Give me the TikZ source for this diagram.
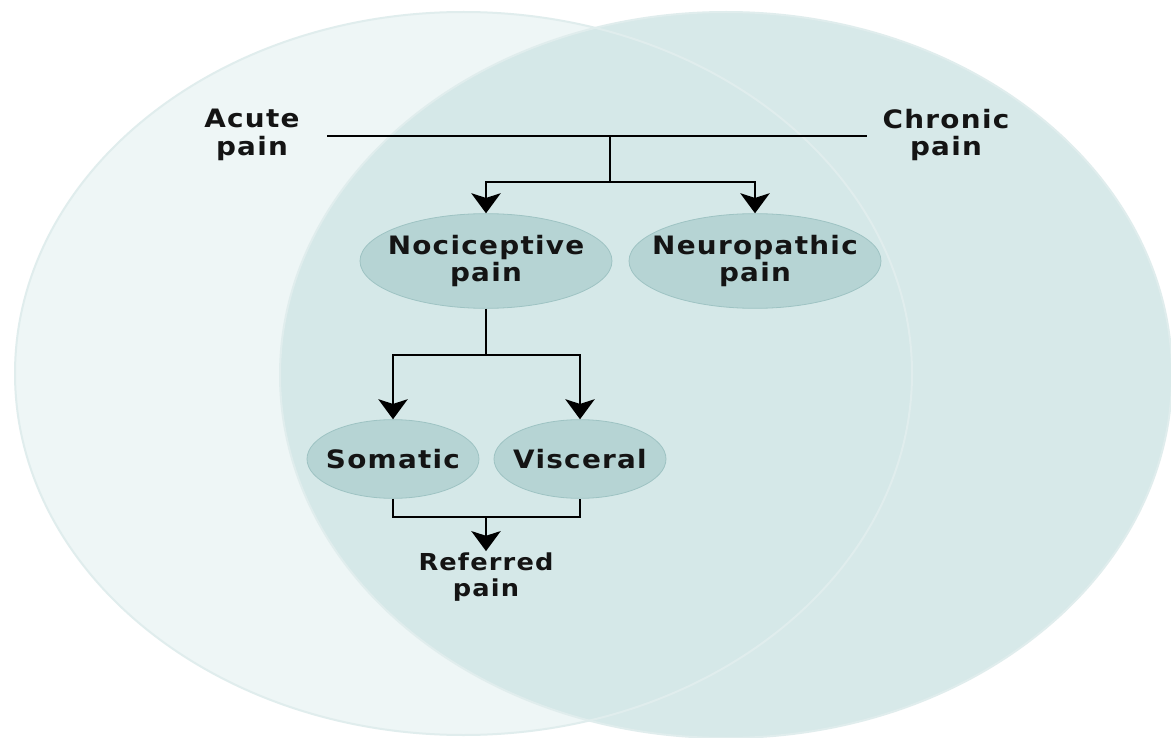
\documentclass[tikz,border=0pt]{standalone}
\usepackage{fontspec}
\usetikzlibrary{shapes.geometric,arrows.meta}

\newfontfamily\lblfont{DejaVu Sans}[FakeStretch=1.1,LetterSpace=5]

\definecolor{acutebg}{HTML}{EEF6F6}
\definecolor{chronicbg}{HTML}{D2E7E7}
\definecolor{rimcol}{HTML}{E0EDED}
\definecolor{bubblefill}{HTML}{B6D4D4}
\definecolor{bubbleedge}{HTML}{9EC3C3}

\begin{document}
\begin{tikzpicture}[x=0.75pt,y=-0.75pt,
    lbl/.style={font=\lblfont\bfseries\fontsize{19}{20.5}\selectfont, align=center, text=black!92, inner sep=1pt},
    smalllbl/.style={lbl, font=\lblfont\bfseries\fontsize{17.5}{19.5}\selectfont},
    bubble/.style={ellipse, fill=bubblefill, draw=bubbleedge, line width=0.6pt,
                   minimum width=189pt, minimum height=71pt, inner xsep=-16pt, inner ysep=0pt,
                   font=\lblfont\bfseries\fontsize{19}{20.5}\selectfont, align=center, text=black!92},
    smallbubble/.style={bubble, minimum width=129pt, minimum height=59pt},
    link/.style={line width=1.5pt, black},
    arr/.style={link, -{Stealth[width=22pt,length=15pt,inset=3.5pt]}}]

    \useasboundingbox (0,0) rectangle (1171,738);
    \fill[white] (0,0) rectangle (1171,738);

    % the two overlapping sets
    \fill[acutebg] (463.5,373.5) ellipse [x radius=448.5, y radius=361.5];
    \fill[chronicbg, fill opacity=0.88] (726,375) ellipse [x radius=446, y radius=363];
    \draw[rimcol, line width=1.5pt] (463.5,373.5) ellipse [x radius=448.5, y radius=361.5];
    \draw[rimcol, line width=1.5pt] (726,375) ellipse [x radius=446, y radius=363];

    % set labels
    \node[lbl] (acute) at (252,135) {Acute\\pain};
    \node[lbl] (chronic) at (946,135) {Chronic\\pain};

    % pain types
    \node[bubble] (noci) at (486,261) {Nociceptive\\pain};
    \node[bubble] (neuro) at (755,261) {Neuropathic\\pain};
    \node[smallbubble] (soma) at (393,459) {Somatic};
    \node[smallbubble] (visc) at (580,459) {Visceral};
    \node[smalllbl] (referred) at (486,577) {Referred\\pain};

    % connectors
    \coordinate (barL) at (327,136);
    \coordinate (barR) at (867,136);
    \coordinate (typeJoin) at (610,182);
    \coordinate (nociJoin) at (486,355);
    \coordinate (refJoin) at (486,517);

    \draw[link] (barL) -- (barR);
    \draw[link] (typeJoin |- barL) -- (typeJoin);
    \foreach \tgt in {noci,neuro}
      \draw[arr] (typeJoin) -| (\tgt.north);

    \draw[link] (noci.south) -- (nociJoin);
    \foreach \tgt in {soma,visc}
      \draw[arr] (nociJoin) -| (\tgt.north);

    \draw[link] (soma.south) |- (refJoin) -| (visc.south);
    \draw[arr] (refJoin) -- (referred.north);

\end{tikzpicture}
\end{document}
